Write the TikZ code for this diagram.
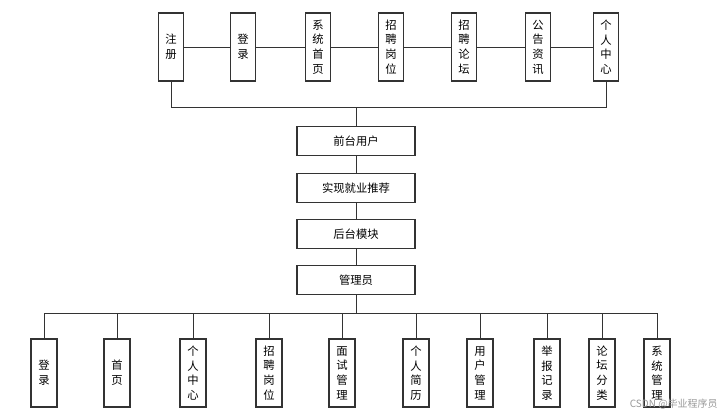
\documentclass[tikz,border=0pt]{standalone}
\usepackage{fontspec}
\setmainfont{Noto Sans CJK SC}
\begin{document}
\begin{tikzpicture}[x=0.75pt,y=-0.75pt,
  box/.style={draw=black!80,line width=0.8pt,font=\fontsize{8.5}{11}\selectfont,align=center,inner sep=0pt},
  ln/.style={draw=black!80,line width=0.7pt}]
\useasboundingbox (0,0) rectangle (723,415);
\fill[white] (0,0) rectangle (723,415);
% top row
\foreach \n/\x/\t in {a/171/注\\册, b/243/登\\录, c/318/系\\统\\首\\页, d/391/招\\聘\\岗\\位, e/464/招\\聘\\论\\坛, f/538/公\\告\\资\\讯, g/606/个\\人\\中\\心}
  \node[box,minimum width=25*0.75pt,minimum height=68*0.75pt] (\n) at (\x,47) {\t};
\draw[ln] (a)--(b) (b)--(c) (c)--(d) (d)--(e) (e)--(f) (f)--(g);
\coordinate (ta) at (171,107); \coordinate (tg) at (606,107); \coordinate (tm) at (356,107);
\draw[ln] (a.south)--(ta)--(tg)--(g.south);
% middle
\foreach \n/\y/\t in {m1/141/前台用户, m2/188/实现就业推荐, m3/234/后台模块, m4/280/管理员}
  \node[box,minimum width=118*0.75pt,minimum height=29*0.75pt] (\n) at (356,\y) {\t};
\draw[ln] (tm)--(m1); \draw[ln] (m1)--(m2); \draw[ln] (m2)--(m3); \draw[ln] (m3)--(m4);
\coordinate (bm) at (356,313);
\draw[ln] (m4)--(bm);
% bottom
\foreach \n/\x/\t in {p1/44/登\\录, p2/117/首\\页, p3/193/个\\人\\中\\心, p4/269/招\\聘\\岗\\位, p5/342/面\\试\\管\\理, p6/416/个\\人\\简\\历, p7/480/用\\户\\管\\理, p8/547/举\\报\\记\\录, p9/602/论\\坛\\分\\类, p10/657/系\\统\\管\\理}
  {\node[box,minimum width=26*0.75pt,minimum height=68*0.75pt] (\n) at (\x,373) {\t};
   \coordinate (c\n) at (\x,313);
   \draw[ln] (c\n)--(\n.north);}
\draw[ln] (cp1)--(cp10);
\node[text=black!40,font=\fontsize{7.5}{9}\selectfont,anchor=east,inner sep=0pt] (wm) at (718,404) {CSDN @毕业程序员};
\end{tikzpicture}
\end{document}
